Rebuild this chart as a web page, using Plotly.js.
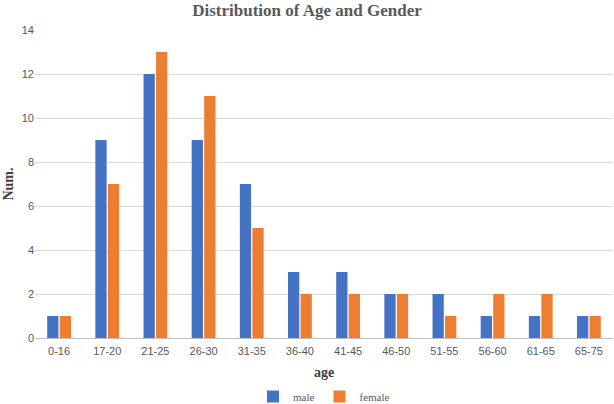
<!DOCTYPE html>
<html><head><meta charset="utf-8">
<script src="https://cdn.plot.ly/plotly-3.0.1.min.js"></script>
<style>html,body{margin:0;padding:0;background:#fff}#chart{width:614px;height:404px}</style>
</head><body><div id="chart"></div>
<script>
const categories = ["0-16","17-20","21-25","26-30","31-35","36-40","41-45","46-50","51-55","56-60","61-65","65-75"];
const maleValues = [1,9,12,9,7,3,3,2,2,1,1,1];
const femaleValues = [1,7,13,11,5,2,2,2,1,2,2,1];
const yTicks = [0,2,4,6,8,10,12,14];

const data = [
  {type:"bar", name:"male", x:categories, y:maleValues, marker:{color:"#4472C4"}},
  {type:"bar", name:"female", x:categories, y:femaleValues, marker:{color:"#ED7D31"}}
];
const layout = {
  width:614, height:404,
  margin:{l:35, r:1, t:30, b:66, autoexpand:false},
  paper_bgcolor:"#fff", plot_bgcolor:"#fff",
  barmode:"group", bargap:0.48, bargroupgap:0.1,
  title:{text:"<b>Distribution of Age and Gender</b>", x:0.5, xanchor:"center", y:0.99, yanchor:"top",
    font:{family:"Liberation Serif, DejaVu Serif, serif", size:17, color:"#595959"}},
  xaxis:{type:"category", tickfont:{family:"Liberation Sans, Arial, sans-serif", size:11, color:"#595959"},
    showline:true, linecolor:"#bfbfbf", ticks:"outside", ticklen:3, tickcolor:"rgba(0,0,0,0)", showgrid:false,
    title:{text:"<b>age</b>", standoff:10, font:{family:"Liberation Serif, serif", size:14, color:"#404040"}}},
  yaxis:{range:[0,14], tickvals:yTicks, showgrid:true, gridcolor:"#d9d9d9", zeroline:false,
    tickfont:{family:"Liberation Sans, Arial, sans-serif", size:11, color:"#595959"}, ticks:"", ticklen:0,
    title:{text:"<b>Num.</b>", standoff:4, font:{family:"Liberation Serif, serif", size:14, color:"#404040"}}},
  legend:{orientation:"h", x:0.5, xanchor:"center", y:-0.19, yanchor:"middle",
    font:{family:"Liberation Serif, serif", size:11, color:"#595959"}, itemwidth:30, tracegroupgap:0},
  showlegend:true
};
Plotly.newPlot("chart", data, layout, {displayModeBar:false, staticPlot:true});
</script></body></html>
